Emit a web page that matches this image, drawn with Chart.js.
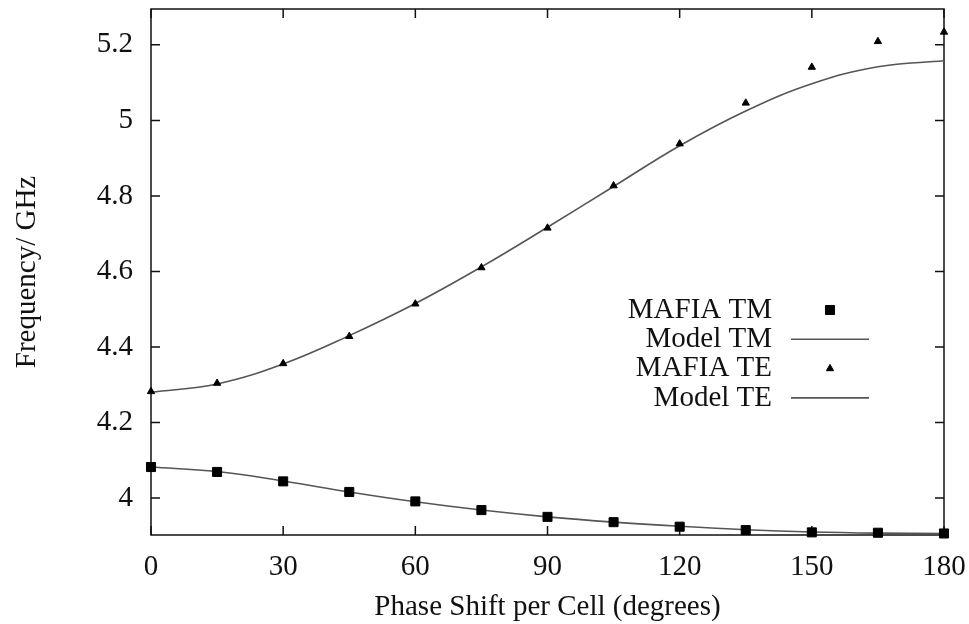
<!DOCTYPE html>
<html>
<head>
<meta charset="utf-8">
<title>Dispersion curves</title>
<script src="https://cdn.jsdelivr.net/npm/chart.js@4/dist/chart.umd.min.js"></script>
<style>
  html, body { margin: 0; padding: 0; background: #fff; }
  #wrap { width: 969px; height: 624px; }
</style>
</head>
<body>
<div id="wrap"><canvas id="dispersion"></canvas></div>
<script>
// phase advance per cell, degrees
const phase = [0, 15, 30, 45, 60, 75, 90, 105, 120, 135, 150, 165, 180];

// frequencies in GHz
const mafiaTM = [4.082, 4.069, 4.044, 4.016, 3.991, 3.968, 3.950, 3.936, 3.924, 3.915, 3.909, 3.908, 3.906];
const modelTM = [4.082, 4.070, 4.045, 4.016, 3.990, 3.968, 3.950, 3.936, 3.925, 3.916, 3.910, 3.907, 3.906];
const mafiaTE = [4.282, 4.304, 4.356, 4.428, 4.514, 4.610, 4.715, 4.827, 4.938, 5.046, 5.141, 5.209, 5.234];
const modelTE = [4.280, 4.302, 4.355, 4.430, 4.515, 4.612, 4.717, 4.825, 4.933, 5.025, 5.097, 5.142, 5.158];

const xTicks = [0, 30, 60, 90, 120, 150, 180];
const yTicks = [4, 4.2, 4.4, 4.6, 4.8, 5, 5.2];

const serif = "'Liberation Serif', 'Times New Roman', serif";
const ink = '#111';
const fontSize = 29;

function pts(vals) {
    return phase.map((p, i) => ({ x: p, y: vals[i] }));
}

// box round the plot with inward ticks on all four sides
const frameTicks = {
    id: 'frameTicks',
    beforeDatasetsDraw(chart) {
        const { ctx, chartArea: a, scales: { x, y } } = chart;
        const len = 9;
        ctx.save();
        ctx.strokeStyle = ink;
        ctx.lineWidth = 1.5;
        ctx.strokeRect(a.left, a.top, a.right - a.left, a.bottom - a.top);
        ctx.beginPath();
        x.ticks.forEach(t => {
            const px = x.getPixelForValue(t.value);
            ctx.moveTo(px, a.bottom); ctx.lineTo(px, a.bottom - len);
            ctx.moveTo(px, a.top); ctx.lineTo(px, a.top + len);
        });
        y.ticks.forEach(t => {
            const py = y.getPixelForValue(t.value);
            ctx.moveTo(a.left, py); ctx.lineTo(a.left + len, py);
            ctx.moveTo(a.right, py); ctx.lineTo(a.right - len, py);
        });
        ctx.stroke();
        ctx.restore();
    }
};

// gnuplot-style key: label right-aligned, sample to its right
const keyBox = {
    id: 'keyBox',
    afterDraw(chart, args, opts) {
        const { ctx } = chart;
        ctx.save();
        ctx.font = `${opts.size}px ${serif}`;
        ctx.textAlign = 'right';
        ctx.textBaseline = 'middle';
        chart.data.datasets.forEach((ds, i) => {
            const yRow = opts.top + i * opts.gap;
            ctx.fillStyle = ink;
            ctx.fillText(ds.label, opts.textRight, yRow);
            if (ds.showLine === false) {
                ctx.fillStyle = ds.pointBackgroundColor;
                ctx.strokeStyle = ds.pointBackgroundColor;
                ctx.lineWidth = 1;
                Chart.helpers.drawPoint(ctx, {
                    pointStyle: ds.pointStyle, radius: ds.pointRadius, rotation: 0, borderWidth: 1
                }, (opts.sampleLeft + opts.sampleRight) / 2, yRow);
            } else {
                ctx.strokeStyle = ds.borderColor;
                ctx.lineWidth = ds.borderWidth;
                ctx.beginPath();
                ctx.moveTo(opts.sampleLeft, yRow);
                ctx.lineTo(opts.sampleRight, yRow);
                ctx.stroke();
            }
        });
        ctx.restore();
    }
};

const markers = (label, vals, style, r) => ({
    label, data: pts(vals), showLine: false, clip: false,
    pointStyle: style, pointRadius: r, pointHoverRadius: r,
    pointBackgroundColor: '#000', pointBorderColor: '#000', pointBorderWidth: 1
});
const curve = (label, vals) => ({
    label, data: pts(vals), clip: false,
    borderColor: '#555', borderWidth: 1.6, pointRadius: 0,
    tension: 0.4, fill: false
});

// keep the plot box where the layout padding puts it, ignoring label overhang
const noOverhang = s => {
    s.paddingTop = 0; s.paddingBottom = 0;
    s.paddingLeft = 0; s.paddingRight = 0;
};

new Chart(document.getElementById('dispersion'), {
    type: 'line',
    data: {
        datasets: [
            markers('MAFIA TM', mafiaTM, 'rect', 6.4),
            curve('Model TM', modelTM),
            markers('MAFIA TE', mafiaTE, 'triangle', 4.2),
            curve('Model TE', modelTE)
        ]
    },
    options: {
        responsive: true,
        maintainAspectRatio: false,
        animation: false,
        layout: { padding: { top: 9, right: 25, bottom: 0, left: 0 } },
        plugins: {
            legend: { display: false },
            tooltip: { enabled: false },
            keyBox: { size: fontSize, top: 310, gap: 29.3, textRight: 772, sampleLeft: 791, sampleRight: 869 }
        },
        scales: {
            x: {
                type: 'linear',
                min: 0, max: 180,
                afterBuildTicks: s => { s.ticks = xTicks.map(v => ({ value: v })); },
                afterFit: s => { s.height = 89; noOverhang(s); },
                grid: { display: false, drawTicks: false },
                border: { display: false },
                ticks: { color: ink, padding: 15, font: { family: serif, size: fontSize } },
                title: {
                    display: true, text: 'Phase Shift per Cell (degrees)', color: ink,
                    font: { family: serif, size: fontSize, lineHeight: 1 }, padding: { top: 0, bottom: 2 }
                }
            },
            y: {
                min: 3.902, max: 5.295,
                afterBuildTicks: s => { s.ticks = yTicks.map(v => ({ value: v })); },
                afterFit: s => { s.width = 151; noOverhang(s); },
                grid: { display: false, drawTicks: false },
                border: { display: false },
                ticks: {
                    color: ink, padding: 18, font: { family: serif, size: fontSize },
                    callback: v => String(Math.round(v * 10) / 10)
                },
                title: {
                    display: true, text: 'Frequency/ GHz', color: ink,
                    font: { family: serif, size: fontSize, lineHeight: 1 }, padding: { top: 13, bottom: 0 }
                }
            }
        }
    },
    plugins: [frameTicks, keyBox]
});
</script>
</body>
</html>
